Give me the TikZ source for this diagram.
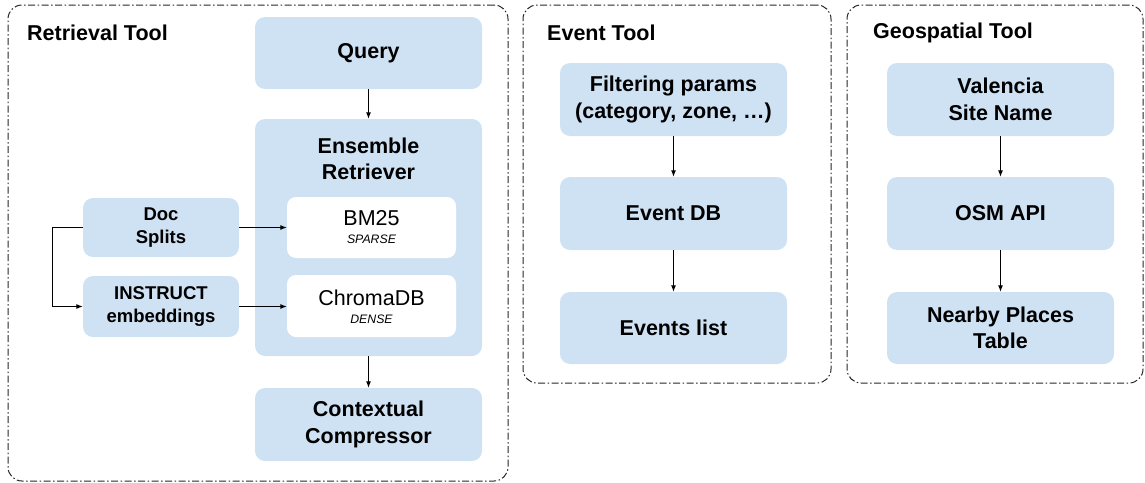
\documentclass[tikz,border=0pt]{standalone}
\usepackage{fontspec}
\setmainfont{Liberation Sans}
\usetikzlibrary{arrows.meta}
\definecolor{boxblue}{HTML}{CFE2F3}
\definecolor{framegray}{HTML}{262626}
\tikzset{
  frame/.style={draw=framegray, line width=1pt, rounded corners=14pt,
    dash pattern=on 7pt off 2.5pt on 1.5pt off 2.5pt, inner sep=0pt},
  bluebox/.style={fill=boxblue, rounded corners=10pt, inner sep=0pt, align=center,
    font=\fontsize{21.5}{26.5}\selectfont\bfseries},
  smallbox/.style={bluebox, font=\fontsize{18.5}{22.5}\selectfont\bfseries},
  whitebox/.style={fill=white, rounded corners=9pt, inner sep=0pt},
  title/.style={anchor=west, inner sep=0pt, font=\fontsize{21.5}{26}\selectfont\bfseries},
  big/.style={inner sep=0pt, font=\fontsize{21.5}{26}\selectfont},
  tag/.style={inner sep=0pt, text=black, font=\fontsize{12.3}{14}\selectfont\itshape},
  conn/.style={line width=0.9pt, -{Latex[length=6.5pt,width=5pt]}},
}
\begin{document}
\begin{tikzpicture}[x=1pt,y=-1pt]
\useasboundingbox (0,0) rectangle (1145,482);
% frames
\node[frame, minimum width=500pt, minimum height=476pt] (fret) at (258,243) {};
\node[frame, minimum width=308pt, minimum height=378pt] (fevt) at (677,194) {};
\node[frame, minimum width=296pt, minimum height=378pt] (fgeo) at (995,194) {};
\node[title] (tret) at (27,33) {Retrieval Tool};
\node[title] (tevt) at (547,33) {Event Tool};
\node[title] (tgeo) at (873,33) {Geospatial Tool};
% retrieval tool
\node[bluebox, minimum width=227pt, minimum height=72pt] (query) at (368.5,53) {Query};
\node[bluebox, minimum width=227pt, minimum height=237pt] (ens) at (368.5,237.5) {};
\node[bluebox, fill=none] (enst) at (368.5,159) {Ensemble\\Retriever};
\node[whitebox, minimum width=169pt, minimum height=61pt] (bm) at (371.5,227.5) {};
\node[big] (bmt) at (371.5,218.5) {BM25};
\node[tag] (bms) at (371.5,239.5) {SPARSE};
\node[whitebox, minimum width=169pt, minimum height=62pt] (chroma) at (371.5,306) {};
\node[big] (chromat) at (371.5,298) {ChromaDB};
\node[tag] (chromas) at (371.5,319.5) {DENSE};
\node[bluebox, minimum width=227pt, minimum height=73pt] (ctx) at (368.5,424.5) {Contextual\\Compressor};
\node[smallbox, minimum width=156pt, minimum height=59pt] (doc) at (161,227.5) {Doc\\Splits};
\node[smallbox, minimum width=156pt, minimum height=61pt] (inst) at (161,306.5) {INSTRUCT\\embeddings};
\draw[conn] (query) -- (ens);
\draw[conn] (ens) -- (ctx);
\draw[conn] (doc.east) -- (doc.east -| bm.west);
\draw[conn] (inst.east) -- (inst.east -| chroma.west);
\draw[conn] (doc.west) -- ++(-30,0) |- (inst.west);
% event tool
\node[bluebox, minimum width=227pt, minimum height=73pt] (filt) at (673.5,99.5) {Filtering params\\(category, zone, …)};
\node[bluebox, minimum width=227pt, minimum height=73pt] (edb) at (673.5,213.5) {Event DB};
\node[bluebox, minimum width=227pt, minimum height=72pt] (elist) at (673.5,328) {Events list};
\draw[conn] (filt) -- (edb);
\draw[conn] (edb) -- (elist);
% geospatial tool
\node[bluebox, minimum width=227pt, minimum height=73pt] (site) at (1000.5,99.5) {Valencia\\Site Name};
\node[bluebox, minimum width=227pt, minimum height=73pt] (osm) at (1000.5,213.5) {OSM API};
\node[bluebox, minimum width=227pt, minimum height=72pt] (near) at (1000.5,328) {Nearby Places\\Table};
\draw[conn] (site) -- (osm);
\draw[conn] (osm) -- (near);
\end{tikzpicture}
\end{document}
